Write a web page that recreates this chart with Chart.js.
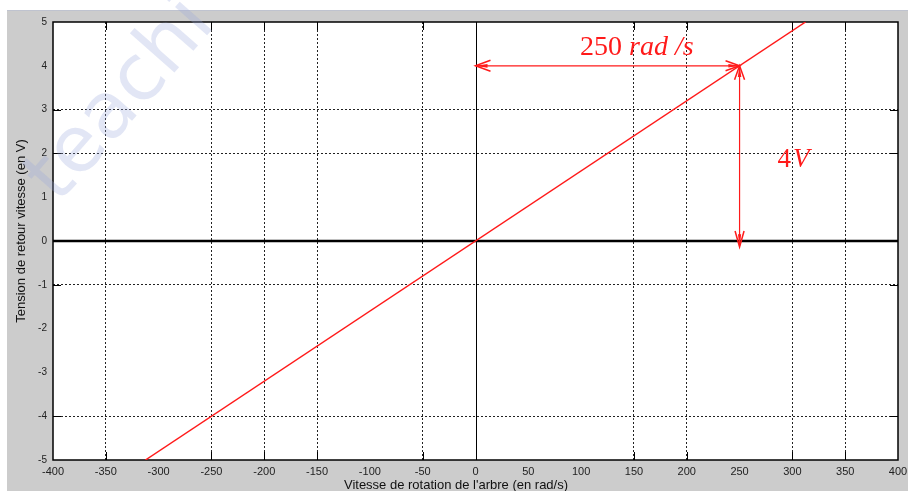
<!DOCTYPE html>
<html><head><meta charset="utf-8">
<script src="https://cdn.jsdelivr.net/npm/chart.js@4"></script>
<style>html,body{margin:0;padding:0;background:#fff;}#wrap{width:908px;height:491px;position:relative;}</style>
</head><body><div id="wrap"><canvas id="c" width="908" height="491"></canvas></div>
<script>
// ---- data ----
const xTicks = [-400,-350,-300,-250,-200,-150,-100,-50,0,50,100,150,200,250,300,350,400];
const yTicks = [-5,-4,-3,-2,-1,0,1,2,3,4,5];
const xVisibleGrid = [-350,-250,-200,-150,-50,150,200,300,350];
const yVisibleGrid = [-4,-1,2,3];
const lineX = [-312.5, 312.5];
const lineY = [-5, 5];
const speedMark = 250;   // rad/s
const voltMark = 4;      // V
const xTitle = "Vitesse de rotation de l'arbre (en rad/s)";
const yTitle = "Tension de retour vitesse (en V)";
const speedLabel = ["250", " rad /s"];
const voltLabel = ["4", "V"];
const watermark = "teachi";

const RED = '#ff1a1a';

function arrowHead(ctx, tx, ty, dx, dy, len, half) {
  const n = Math.hypot(dx, dy); dx /= n; dy /= n;
  const bx = tx - dx * len, by = ty - dy * len;
  const px = -dy, py = dx;
  ctx.beginPath();
  ctx.moveTo(bx + px * half, by + py * half);
  ctx.lineTo(tx, ty);
  ctx.lineTo(bx - px * half, by - py * half);
  ctx.stroke();
  ctx.beginPath();
  ctx.moveTo(tx, ty);
  ctx.lineTo(tx - dx*len*0.8 + px*half*0.35, ty - dy*len*0.8 + py*half*0.35);
  ctx.lineTo(tx - dx*len*0.8 - px*half*0.35, ty - dy*len*0.8 - py*half*0.35);
  ctx.closePath();
  ctx.fill();
}

const deco = {
  id: 'deco',
  beforeDraw(chart) {
    const ctx = chart.ctx, a = chart.chartArea;
    ctx.save();
    ctx.fillStyle = '#ffffff'; ctx.fillRect(0, 0, chart.width, chart.height);
    ctx.fillStyle = '#cccccc'; ctx.fillRect(7, 10, chart.width - 7, chart.height - 10);
    ctx.fillStyle = '#bfc3cf'; ctx.fillRect(7, 10, chart.width - 7, 1);
    ctx.fillStyle = '#ffffff'; ctx.fillRect(a.left, a.top, a.right - a.left, a.bottom - a.top);
    ctx.restore();
  },
  beforeDatasetsDraw(chart) {
    const ctx = chart.ctx, a = chart.chartArea, xs = chart.scales.x, ys = chart.scales.y;
    ctx.save();
    ctx.strokeStyle = '#000'; ctx.lineWidth = 1;
    ctx.beginPath();
    xVisibleGrid.forEach(v => { const p = Math.round(xs.getPixelForValue(v)) + 0.5;
      ctx.moveTo(p, a.bottom); ctx.lineTo(p, a.bottom - 8);
      ctx.moveTo(p, a.top); ctx.lineTo(p, a.top + 8); });
    yVisibleGrid.forEach(v => { const p = Math.round(ys.getPixelForValue(v)) + 0.5;
      ctx.moveTo(a.left, p); ctx.lineTo(a.left + 8, p);
      ctx.moveTo(a.right, p); ctx.lineTo(a.right - 8, p); });
    ctx.stroke();
    const x0 = Math.round(xs.getPixelForValue(0)) + 0.5;
    ctx.beginPath(); ctx.moveTo(x0, a.top); ctx.lineTo(x0, a.bottom); ctx.stroke();
    const y0 = ys.getPixelForValue(0);
    ctx.lineWidth = 2.5;
    ctx.beginPath(); ctx.moveTo(a.left, y0); ctx.lineTo(a.right, y0); ctx.stroke();
    ctx.lineWidth = 1.5;
    ctx.strokeRect(a.left, a.top, a.right - a.left, a.bottom - a.top);
    ctx.restore();
  },
  afterDatasetsDraw(chart) {
    const ctx = chart.ctx, xs = chart.scales.x, ys = chart.scales.y;
    const px0 = xs.getPixelForValue(0), pxS = xs.getPixelForValue(speedMark);
    const pyV = ys.getPixelForValue(voltMark), py0 = ys.getPixelForValue(0);
    ctx.save();
    ctx.strokeStyle = RED; ctx.fillStyle = RED; ctx.lineWidth = 1.2;
    ctx.beginPath(); ctx.moveTo(px0, pyV); ctx.lineTo(pxS, pyV); ctx.stroke();
    ctx.beginPath(); ctx.moveTo(pxS, pyV); ctx.lineTo(pxS, py0 + 5); ctx.stroke();
    ctx.lineWidth = 1.5;
    arrowHead(ctx, px0, pyV, -1, 0, 15, 5.5);
    arrowHead(ctx, pxS, pyV, 1, 0, 14, 5);
    arrowHead(ctx, pxS, pyV, 0, -1, 14, 5);
    arrowHead(ctx, pxS, py0 + 6, 0, 1, 16, 4.5);
    ctx.textBaseline = 'alphabetic'; ctx.textAlign = 'left';
    let tx = xs.getPixelForValue(99), ty = ys.getPixelForValue(4.25);
    ctx.font = '28px "Liberation Serif"';
    ctx.fillText(speedLabel[0], tx, ty);
    tx += ctx.measureText(speedLabel[0]).width;
    ctx.font = 'italic 28px "Liberation Serif"';
    ctx.fillText(speedLabel[1], tx, ty);
    tx = xs.getPixelForValue(286); ty = ys.getPixelForValue(1.68);
    ctx.font = '27px "Liberation Serif"';
    ctx.fillText(voltLabel[0], tx, ty);
    tx += ctx.measureText(voltLabel[0]).width + 2;
    ctx.font = 'italic 27px "Liberation Serif"';
    ctx.fillText(voltLabel[1], tx, ty);
    ctx.restore();
  },
  afterDraw(chart) {
    const ctx = chart.ctx;
    ctx.save();
    ctx.fillStyle = '#111';
    ctx.font = '13px "Liberation Sans"';
    ctx.textAlign = 'center'; ctx.textBaseline = 'middle';
    ctx.fillText(xTitle, 456, 485);
    ctx.translate(21, 231); ctx.rotate(-Math.PI / 2);
    ctx.fillText(yTitle, 0, 0);
    ctx.restore();
    ctx.save();
    ctx.translate(58, 205); ctx.rotate(-0.85);
    ctx.font = '78px "DejaVu Sans"';
    ctx.fillStyle = 'rgba(150,165,220,0.28)';
    ctx.textAlign = 'left'; ctx.textBaseline = 'alphabetic';
    ctx.fillText(watermark, 0, 0);
    ctx.restore();
  }
};

new Chart(document.getElementById('c'), {
  type: 'scatter',
  data: { datasets: [{
    data: lineX.map((x, i) => ({ x: x, y: lineY[i] })),
    showLine: true, borderColor: RED, borderWidth: 1.5, pointRadius: 0, fill: false
  }]},
  options: {
    responsive: false, animation: false, devicePixelRatio: 1,
    layout: { padding: { top: 22, right: 10, left: 0, bottom: 0 } },
    plugins: { legend: { display: false }, tooltip: { enabled: false } },
    scales: {
      x: {
        type: 'linear', min: -400, max: 400,
        afterBuildTicks: s => { s.ticks = xTicks.map(v => ({ value: v })); },
        afterFit: s => { s.height = 31; s.paddingRight = 0; s.paddingLeft = 0; },
        ticks: { autoSkip: false, maxRotation: 0, padding: 5, color: '#222',
                 font: { family: '"Liberation Sans"', size: 11 } },
        grid: { drawTicks: false,
                color: c => xVisibleGrid.includes(c.tick && c.tick.value) ? '#222' : 'rgba(0,0,0,0)',
                lineWidth: 1 },
        border: { display: false, dash: [2, 2] }
      },
      y: {
        type: 'linear', min: -5, max: 5,
        afterBuildTicks: s => { s.ticks = yTicks.map(v => ({ value: v })); },
        afterFit: s => { s.width = 53; s.paddingTop = 0; s.paddingBottom = 0; },
        ticks: { autoSkip: false, padding: 6, color: '#222',
                 font: { family: '"Liberation Sans"', size: 10 } },
        grid: { drawTicks: false,
                color: c => yVisibleGrid.includes(c.tick && c.tick.value) ? '#222' : 'rgba(0,0,0,0)',
                lineWidth: 1 },
        border: { display: false, dash: [2, 2] }
      }
    }
  },
  plugins: [deco]
});
</script></body></html>
